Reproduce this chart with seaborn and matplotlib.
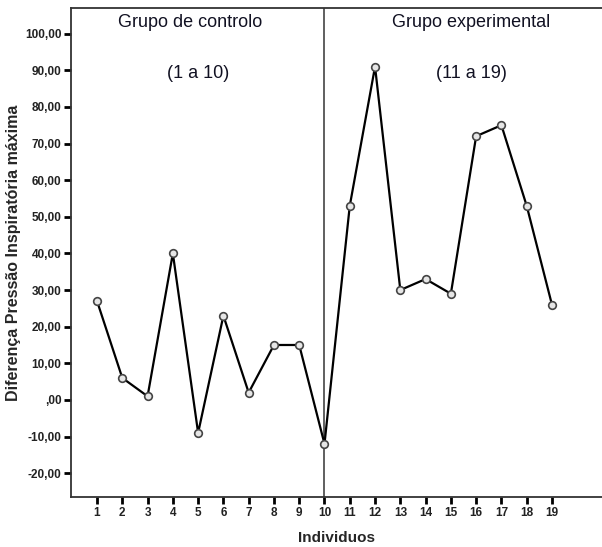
import matplotlib
matplotlib.use("Agg")
import matplotlib.pyplot as plt
import seaborn as sns
import pandas as pd
from matplotlib.ticker import FuncFormatter

individuos = list(range(1, 20))
diferenca = [27, 6, 1, 40, -9, 23, 2, 15, 15, -12, 53, 91, 30, 33, 29, 72, 75, 53, 26]
y_ticks = [-20, -10, 0, 10, 20, 30, 40, 50, 60, 70, 80, 90, 100]
group_titles = ["Grupo de controlo", "Grupo experimental"]
group_ranges = ["(1 a 10)", "(11 a 19)"]

df = pd.DataFrame({"Individuos": individuos, "Diferenca": diferenca})

sns.set_style("ticks")
plt.rcParams['font.family'] = ['Liberation Sans', 'DejaVu Sans']

fig = plt.figure(figsize=(6.02, 5.47), dpi=100)
ax = fig.add_axes([71/602, 1-497/547, 1-71/602, (497-8)/547])

sns.lineplot(data=df, x="Individuos", y="Diferenca", ax=ax, color="black",
             linewidth=1.6, marker="o", markersize=5.5, markerfacecolor="#e6e6e6",
             markeredgecolor="#444444", markeredgewidth=1.2)

ax.axvline(10, color="#444444", linewidth=1.2, zorder=0)

ax.set_xlim(-0.03, 20.98)
ax.set_ylim(-26.5, 107)
ax.set_xticks(individuos)
ax.set_yticks(y_ticks)

def fmt(v, pos):
    if v == 0:
        return ",00"
    return f"{v:.2f}".replace(".", ",")
ax.yaxis.set_major_formatter(FuncFormatter(fmt))

ax.tick_params(axis="both", which="major", direction="out", length=5, width=2,
               color="black", labelsize=8.5, pad=2)
for lab in ax.get_xticklabels() + ax.get_yticklabels():
    lab.set_fontweight("bold")
    lab.set_color("#222222")

for s in ["left", "bottom", "top"]:
    ax.spines[s].set_visible(True)
    ax.spines[s].set_color("#333333")
    ax.spines[s].set_linewidth(1.3)
ax.spines["right"].set_visible(False)

ax.set_xlabel("Individuos", fontsize=11, fontweight="bold", labelpad=9)
ax.set_ylabel("Diferença Pressão Inspiratória máxima", fontsize=11.5, fontweight="bold", labelpad=3)

ax.text(4.7, 103, group_titles[0], fontsize=13, ha="center", va="center", color="#111122")
ax.text(5.0, 89, group_ranges[0], fontsize=13, ha="center", va="center", color="#111122")
ax.text(15.8, 103, group_titles[1], fontsize=13, ha="center", va="center", color="#111122")
ax.text(15.8, 89, group_ranges[1], fontsize=13, ha="center", va="center", color="#111122")

fig.savefig("out.png", dpi=100)
